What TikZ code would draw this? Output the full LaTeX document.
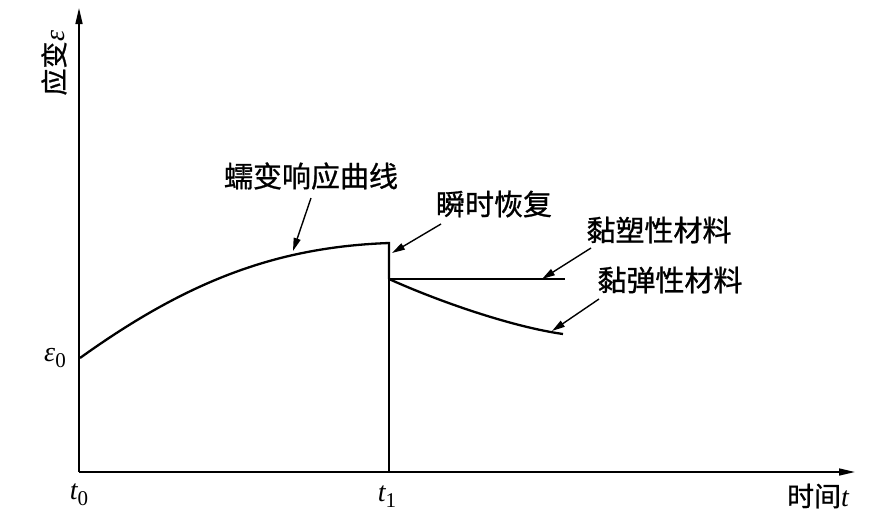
\documentclass[tikz,border=0pt]{standalone}
\usepackage{fontspec}
\setmainfont{Liberation Serif}
\newfontfamily\cjk[FakeBold=0.9]{Noto Sans CJK SC}
\usetikzlibrary{arrows.meta}
\begin{document}
\begin{tikzpicture}[x=1pt,y=-1pt,
  curve/.style={line width=2.3pt},
  thin/.style={line width=1.6pt},
  axis/.style={line width=1.6pt,-{Triangle[length=16pt,width=7pt]}},
  pointer/.style={line width=1.4pt,-{Triangle[length=13pt,width=7pt]}},
  lab/.style={font=\cjk\fontsize{29}{31}\selectfont, inner sep=0pt},
  mlab/.style={font=\fontsize{28}{30}\selectfont, inner sep=0pt}]
\useasboundingbox (0,0) rectangle (885,520);
% axes
\coordinate (O) at (79,472);
\coordinate (Ytip) at (79,8);
\coordinate (Xtip) at (855,472);
\draw[axis] (O) -- (Ytip);
\draw[axis] (O) -- (Xtip);
% curves
\coordinate (E0) at (80,358);
\coordinate (P) at (389,243);
\coordinate (Q) at (389,279);
\coordinate (T1) at (389,472);
\coordinate (R) at (565,279);
\coordinate (S) at (563,334);
\draw[curve] (E0) .. controls (190,279) and (279,247) .. (P) -- (Q);
\draw[thin] (Q) -- (T1);
\draw[curve] (Q) -- (R);
\draw[curve] (Q) .. controls (440,302) and (513,327) .. (S);
% labels
\node[lab] (creep) at (311,176) {蠕变响应曲线};
\node[lab] (inst) at (494,204) {瞬时恢复};
\node[lab] (vp) at (659,230) {黏塑性材料};
\node[lab] (ve) at (670,280) {黏弹性材料};
% pointers
\coordinate (a1s) at (311,198); \coordinate (a1e) at (293,251);
\coordinate (a2s) at (441,224); \coordinate (a2e) at (392,253);
\coordinate (a3s) at (591,248); \coordinate (a3e) at (542,279);
\coordinate (a4s) at (599,299); \coordinate (a4e) at (552,331);
\draw[pointer] (a1s) -- (a1e);
\draw[pointer] (a2s) -- (a2e);
\draw[pointer] (a3s) -- (a3e);
\draw[pointer] (a4s) -- (a4e);
% math labels
\node[mlab] (e0) at (55,358) {{\itshape ε}\raisebox{-6pt}{\fontsize{21}{21}\selectfont 0}};
\node[mlab] (t0) at (79,495) {{\itshape t}\raisebox{-6pt}{\fontsize{21}{21}\selectfont 0}};
\node[mlab] (t1) at (387,497) {{\itshape t}\raisebox{-6pt}{\fontsize{21}{21}\selectfont 1}};
\node[mlab] (xlab) at (818,496) {{\cjk\fontsize{27}{29}\selectfont 时间}{\itshape t}};
\node[mlab, rotate=90] (ylab) at (54,63) {{\cjk\fontsize{27}{29}\selectfont 应变}{\itshape ε}};
\end{tikzpicture}
\end{document}
